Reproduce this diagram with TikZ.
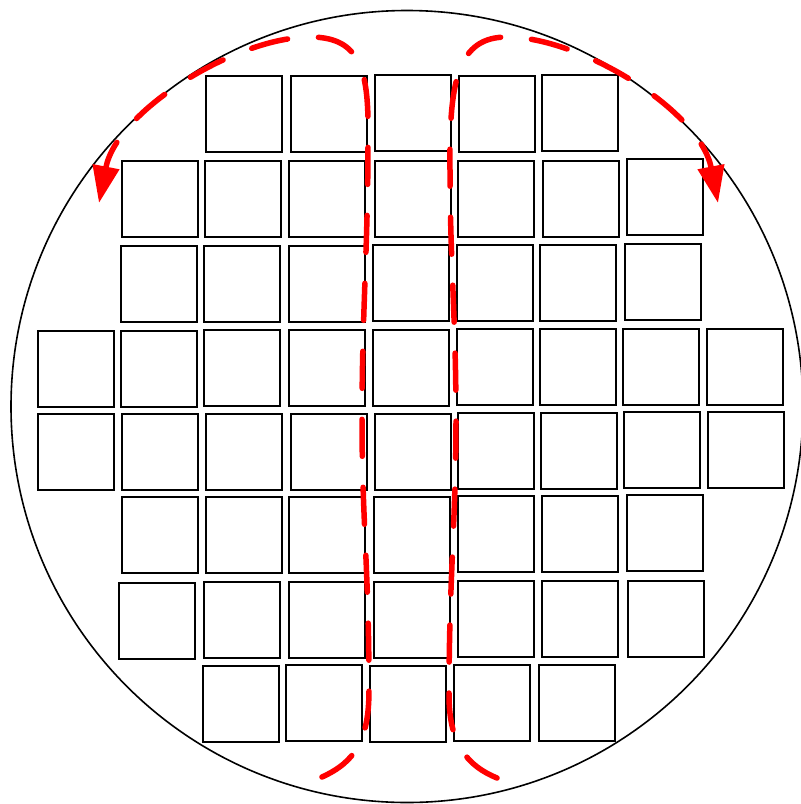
\documentclass[tikz,border=0pt]{standalone}
\usetikzlibrary{arrows.meta}
\definecolor{pathred}{RGB}{255,0,0}
\tikzset{
  chip/.style={draw=black,line width=1.7pt,minimum size=76.3pt,inner sep=0pt,outer sep=0pt,fill=white},
  waferedge/.style={draw=black,line width=1.6pt,circle,minimum size=792pt,inner sep=0pt,outer sep=0pt},
  saw/.style={draw=pathred,line width=5.5pt,line cap=round,dash pattern=on 37pt off 31pt},
  sawarrow/.style={saw,-{Triangle[length=37pt,width=26pt]}}
}
\begin{document}
\begin{tikzpicture}[x=1pt,y=-1pt]
\useasboundingbox (0,0) rectangle (801,804);
% dies
\foreach \n/\x/\y in {
  a1/244/114, a2/329/114, a3/413/113, a4/497/114, a5/580/113,
  b1/160/199, b2/243/199, b3/327/199, b4/413/199, b5/496/199, b6/581/199, b7/665/197,
  c1/159/284, c2/242/284, c3/327/284, c4/411/283, c5/495/283, c6/578/283, c7/663/282,
  d1/76/369, d2/159/369, d3/242/368, d4/327/368, d5/411/368, d6/495/367, d7/578/367, d8/661/367, d9/745/367,
  e1/76/452, e2/160/452, e3/244/452, e4/329/452, e5/413/452, e6/496/451, e7/579/451, e8/662/450, e9/746/450,
  f1/160/535, f2/244/535, f3/327/535, f4/412/535, f5/496/534, f6/580/534, f7/665/533,
  g1/157/621, g2/242/620, g3/327/620, g4/412/620, g5/496/619, g6/580/619, g7/666/619,
  h1/241/704, h2/324/703, h3/408/704, h4/492/703, h5/577/703}
  \node[chip] (\n) at (\x,\y) {};
% wafer outline
\node[waferedge] (wafer) at (407,406.5) {};
% saw paths
\coordinate (Ls) at (322,777);
\coordinate (Lt) at (310,37);
\coordinate (Le) at (99,203);
\coordinate (Rs) at (497,778);
\coordinate (Rt) at (507,37);
\coordinate (Re) at (718,203);
\draw[sawarrow] (Ls) .. controls (355,762) and (369,740) .. (369,690)
  .. controls (369,570) and (362,520) .. (362,420)
  .. controls (362,310) and (368,250) .. (368,140)
  .. controls (369,72) and (362,37) .. (Lt)
  .. controls (237,37) and (117,110) .. (Le);
\draw[sawarrow] (Rs) .. controls (468,766) and (449,745) .. (449,695)
  .. controls (449,580) and (456,520) .. (456,420)
  .. controls (456,320) and (450,260) .. (450,170)
  .. controls (449,80) and (458,37) .. (Rt)
  .. controls (580,37) and (700,110) .. (Re);
\end{tikzpicture}
\end{document}
